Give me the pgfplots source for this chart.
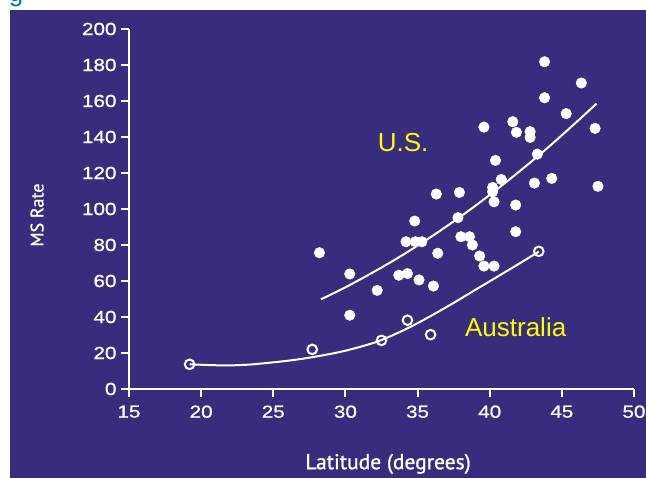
\documentclass[border=0pt]{standalone}
\usepackage{pgfplots}
\pgfplotsset{compat=1.18}
\usepackage{fontspec}
\setmainfont{Liberation Sans}
\newfontfamily\tickfont[FakeStretch=1.18,FakeBold=0.9]{Liberation Sans}
\newfontfamily\labfont[FakeBold=1.2]{PT Sans}
\definecolor{panel}{RGB}{54,46,124}
\definecolor{figblue}{RGB}{0,112,192}
\definecolor{lab}{RGB}{255,255,0}
\begin{document}
\begin{tikzpicture}
\useasboundingbox (0bp,0bp) rectangle (646bp,478bp);
\clip (0bp,0bp) rectangle (646bp,478bp);
\fill[white] (0bp,0bp) rectangle (646bp,478bp);
\fill[panel] (10bp,0bp) rectangle (646bp,468bp);
\node[figblue, anchor=base, inner sep=0pt, font=\fontsize{26bp}{30bp}\selectfont] at (16bp,476bp) {g};
\begin{axis}[
  at={(129bp,89bp)}, anchor=south west,
  scale only axis, width=505bp, height=360bp,
  xmin=15, xmax=50, ymin=0, ymax=200,
  axis x line*=bottom, axis y line*=left,
  axis line style={white, line width=2bp, -},
  tick style={white, line width=2bp},
  major tick length=8bp,
  tick align=outside,
  xtick={15,20,...,50}, ytick={0,20,...,200},
  tick label style={white, font=\tickfont\fontsize{17.5bp}{20bp}\selectfont},
  xticklabel style={yshift=-5bp},
  yticklabel style={xshift=-1bp},
  /pgf/number format/assume math mode=true,
  xlabel={Latitude (degrees)}, ylabel={MS Rate},
  xlabel style={white, font=\labfont\fontsize{21.5bp}{24bp}\selectfont, at={(axis description cs:0.513,-0.208)}, anchor=center},
  ylabel style={white, font=\labfont\fontsize{18bp}{20bp}\selectfont, at={(axis description cs:-0.182,0.483)}, anchor=center},
  clip=false,
]
\addplot[white, line width=2bp, smooth] coordinates {
(28.3,49.8) (30,56.5) (32,65.2) (34,74.6) (36,84.9) (38,95.9) (40,107.8) (42,120.5) (44,133.9) (46,148.2) (47.4,158.5)};
\addplot[only marks, mark=*, mark size=5.3bp, mark options={draw=white, fill=white}] table {
x y
28.2 75.7
30.3 63.9
30.3 41.0
32.2 54.8
33.7 63.2
34.3 64.1
34.2 81.8
34.85 81.8
35.3 81.8
34.8 93.3
35.1 60.6
36.1 57.2
36.3 108.3
36.4 75.4
37.8 95.2
37.9 109.2
38.0 84.6
38.6 84.6
38.8 80.0
39.3 73.9
39.6 68.3
40.3 68.3
39.6 145.5
40.2 112.0
40.2 109.6
40.3 104.0
40.4 127.0
40.8 116.4
41.6 148.5
41.85 142.6
41.8 102.2
41.8 87.4
42.8 143.0
42.8 139.8
43.3 130.5
43.1 114.4
43.8 181.8
43.8 161.8
44.3 117.0
45.3 153.0
46.35 170.0
47.3 144.8
47.5 112.6
};
\addplot[white, line width=2bp, smooth] coordinates {
(19.2,13.7) (20.6,13.3) (21.8,13.1) (23.4,13.6) (25.9,15.6) (27.8,17.8) (29.8,20.9) (31.7,25.0) (32.8,28.2) (34.7,35.3) (37.0,45.5) (39.3,56.5) (41.6,67.5) (43.4,76.3)};
\addplot[only marks, mark=o, mark size=4.8bp, mark options={draw=white, fill=panel, line width=2bp}] table {
x y
19.2 13.7
27.7 22.0
32.5 27.0
34.3 38.2
35.9 30.2
43.4 76.5
};
\node[lab, font=\fontsize{26bp}{30bp}\selectfont] at (axis cs:34.0,136.7) {U.S.};
\node[lab, font=\fontsize{26bp}{30bp}\selectfont] at (axis cs:41.8,34.4) {Australia};
\end{axis}
\end{tikzpicture}
\end{document}
